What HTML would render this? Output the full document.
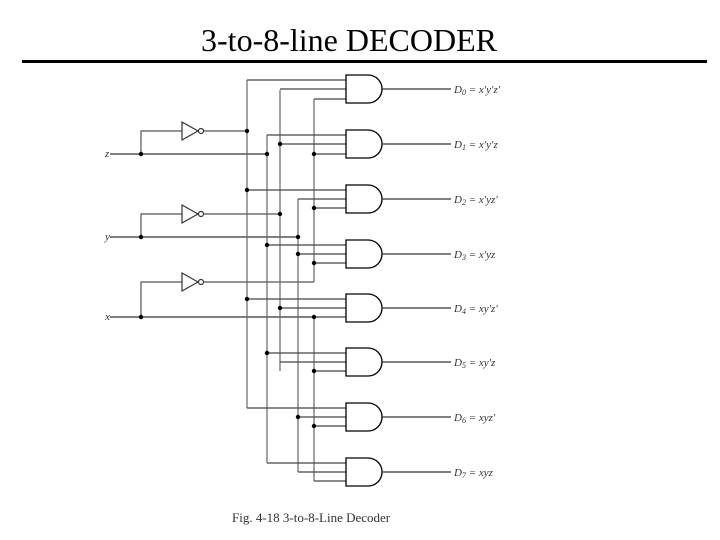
<!DOCTYPE html>
<html><head><style>
html,body{margin:0;padding:0;background:#fff;}
body{width:720px;height:540px;overflow:hidden;}
</style></head><body>
<svg width="720" height="540" xmlns="http://www.w3.org/2000/svg" style="position:absolute;left:0;top:0">
<text x="349" y="51" font-family="Liberation Serif, serif" font-size="32" text-anchor="middle" fill="#000">3-to-8-line DECODER</text>
<rect x="22" y="60" width="685" height="3" fill="#000"/>
<g stroke="#333" stroke-width="1.2" fill="none">
<path d="M110,154H267 M110,237H298 M110,317H314"/>
<path d="M141,154V131H182 M141,237V214H182 M141,317V282H182" stroke="#555"/>
<path d="M182,122L198,131L182,140Z M182,205L198,214L182,223Z M182,273L198,282L182,291Z" fill="#fff"/>
<circle cx="201" cy="131" r="2.5" fill="#fff"/><circle cx="201" cy="214" r="2.5" fill="#fff"/><circle cx="201" cy="282" r="2.5" fill="#fff"/>
<path d="M204,131H247 M204,214H280 M204,282H314" stroke="#555"/>
<path d="M247,80V408 M267,135V463 M280,90V371 M298,199V472 M314,99V282 M314,317V481" stroke="#666"/>
<path d="M247,80H346 M280,89H346 M314,99H346
M267,135H346 M280,144H346 M314,154H346
M247,190H346 M298,199H346 M314,208H346
M267,245H346 M298,254H346 M314,263H346
M247,299H346 M280,308H346 M314,317H346
M267,353H346 M280,362H346 M314,371H346
M247,408H346 M298,417H346 M314,426H346
M267,463H346 M298,472H346 M314,481H346" stroke="#444"/>
<g stroke="#000" stroke-width="1.3" fill="#fff">
<path d="M346,75h22a14,14 0 0 1 0,28h-22z"/>
<path d="M346,130h22a14,14 0 0 1 0,28h-22z"/>
<path d="M346,185h22a14,14 0 0 1 0,28h-22z"/>
<path d="M346,240h22a14,14 0 0 1 0,28h-22z"/>
<path d="M346,294h22a14,14 0 0 1 0,28h-22z"/>
<path d="M346,348h22a14,14 0 0 1 0,28h-22z"/>
<path d="M346,403h22a14,14 0 0 1 0,28h-22z"/>
<path d="M346,458h22a14,14 0 0 1 0,28h-22z"/>
</g>
<path d="M382,89H451 M382,144H451 M382,199H451 M382,254H451 M382,308H451 M382,362H451 M382,417H451 M382,472H451"/>
</g>
<g fill="#000">
<circle cx="141" cy="154" r="2.2"/><circle cx="141" cy="237" r="2.2"/><circle cx="141" cy="317" r="2.2"/>
<circle cx="247" cy="131" r="2.2"/><circle cx="247" cy="190" r="2.2"/><circle cx="247" cy="299" r="2.2"/>
<circle cx="267" cy="154" r="2.2"/><circle cx="267" cy="245" r="2.2"/><circle cx="267" cy="353" r="2.2"/>
<circle cx="280" cy="144" r="2.2"/><circle cx="280" cy="214" r="2.2"/><circle cx="280" cy="308" r="2.2"/>
<circle cx="298" cy="237" r="2.2"/><circle cx="298" cy="254" r="2.2"/><circle cx="298" cy="417" r="2.2"/>
<circle cx="314" cy="154" r="2.2"/><circle cx="314" cy="208" r="2.2"/><circle cx="314" cy="263" r="2.2"/>
<circle cx="314" cy="317" r="2.2"/><circle cx="314" cy="371" r="2.2"/><circle cx="314" cy="426" r="2.2"/>
</g>
<g font-family="Liberation Serif, serif" font-size="11" font-style="italic" fill="#333">
<text x="105" y="157">z</text><text x="105" y="240">y</text><text x="105" y="320">x</text>
<text x="454" y="93">D<tspan font-size="8" dy="2">0</tspan><tspan dy="-2"> = x′y′z′</tspan></text>
<text x="454" y="148">D<tspan font-size="8" dy="2">1</tspan><tspan dy="-2"> = x′y′z</tspan></text>
<text x="454" y="203">D<tspan font-size="8" dy="2">2</tspan><tspan dy="-2"> = x′yz′</tspan></text>
<text x="454" y="258">D<tspan font-size="8" dy="2">3</tspan><tspan dy="-2"> = x′yz</tspan></text>
<text x="454" y="312">D<tspan font-size="8" dy="2">4</tspan><tspan dy="-2"> = xy′z′</tspan></text>
<text x="454" y="366">D<tspan font-size="8" dy="2">5</tspan><tspan dy="-2"> = xy′z</tspan></text>
<text x="454" y="421">D<tspan font-size="8" dy="2">6</tspan><tspan dy="-2"> = xyz′</tspan></text>
<text x="454" y="476">D<tspan font-size="8" dy="2">7</tspan><tspan dy="-2"> = xyz</tspan></text>
</g>
<text x="232" y="522" font-family="Liberation Serif, serif" font-size="13" fill="#333">Fig. 4-18  3-to-8-Line Decoder</text>
</svg>
</body></html>
